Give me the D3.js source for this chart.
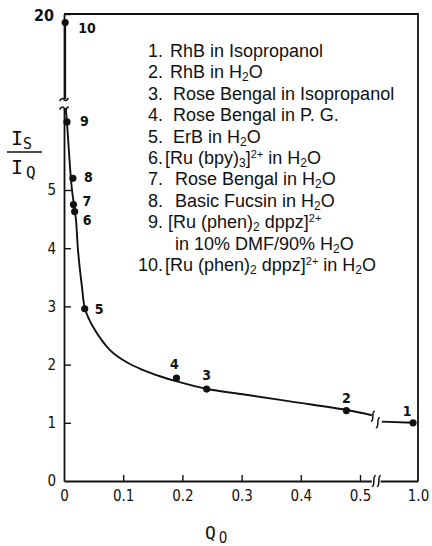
<!DOCTYPE html>
<html><head><meta charset="utf-8">
<script src="https://cdn.jsdelivr.net/npm/d3@7"></script>
<style>body{margin:0;background:#fff}svg{display:block}</style>
</head><body>
<svg id="chart" width="432" height="546"></svg>
<script>
// ---------- data ----------
const pointIds = ["1","2","3","4","5","6","7","8","9","10"];
const quantumYield = [0.987, 0.477, 0.241, 0.190, 0.035, 0.018, 0.016, 0.015, 0.005, 0.002];
const intensityRatio = [1.00, 1.21, 1.58, 1.77, 2.96, 4.63, 4.75, 5.20, 6.17, 19.8];
const legendNumbers = ["1.","2.","3.","4.","5.","6.","7.","8.","9.","","10."];
const legendLabels = [
  "RhB in Isopropanol",
  "RhB in H_{2}O",
  "Rose Bengal in Isopropanol",
  "Rose Bengal in P. G.",
  "ErB in H_{2}O",
  "[Ru (bpy)_{3}]^{2+} in H_{2}O",
  "Rose Bengal in H_{2}O",
  "Basic Fucsin in H_{2}O",
  "[Ru (phen)_{2} dppz]^{2+}",
  "in 10% DMF/90% H_{2}O",
  "[Ru (phen)_{2} dppz]^{2+} in H_{2}O"
];
// fitted curve (left part, top part above the y break, right part after the x break)
const fitQ     = [0.003, 0.005, 0.0101, 0.0135, 0.0169, 0.0203, 0.0236, 0.0304, 0.0355, 0.049, 0.0777, 0.106, 0.133, 0.162, 0.1875, 0.2416, 0.302, 0.387, 0.478, 0.520];
const fitRatio = [6.40, 6.17, 5.40, 5.00, 4.74, 4.48, 3.97, 3.33, 2.96, 2.65, 2.25, 2.04, 1.91, 1.80, 1.72, 1.58, 1.49, 1.36, 1.22, 1.13];
const fitQTop = [0.002, 0.002];
const fitRatioTop = [18.0, 19.8];
const fitQRight = [0.905, 0.987];
const fitRatioRight = [1.02, 1.00];
const xTickValues = [0, 0.1, 0.2, 0.3, 0.4, 0.5];
const xTickLabels = ["0", "0.1", "0.2", "0.3", "0.4", "0.5"];
const xTickValuesHigh = [1.0];
const xTickLabelsHigh = ["1.0"];
const yTickValues = [0, 1, 2, 3, 4, 5];
const yTickLabels = ["0", "1", "2", "3", "4", "5"];
const yTickValuesHigh = [20];
const yTickLabelsHigh = ["20"];

// ---------- layout ----------
const INK = "#111";
const svg = d3.select("#chart");
const xLow = d3.scaleLinear().domain([0, 0.52]).range([64, 64 + 0.52 * 592]);
const xHigh = d3.scaleLinear().domain([0.9, 1.0]).range([380, 418]);
const yLow = d3.scaleLinear().domain([0, 6.4]).range([481, 481 - 6.4 * 58.2]);
const yHigh = d3.scaleLinear().domain([18, 20]).range([99, 14]);
const xPos = q => q >= 0.9 ? xHigh(q) : xLow(q);
const yPos = r => r > 6.4 ? yHigh(r) : yLow(r);

const tickFont = "'DejaVu Sans Condensed','DejaVu Sans',sans-serif";

function styleAxis(g){
  g.selectAll("path.domain").attr("stroke", INK).attr("stroke-width", 1.8);
  g.selectAll(".tick line").attr("stroke", INK).attr("stroke-width", 1.4);
  g.selectAll(".tick text").attr("fill", INK).style("font-family", tickFont)
    .style("font-stretch", "condensed").style("font-size", "15px");
}

// x axes
const gxl = svg.append("g").attr("transform", "translate(0,481)")
  .call(d3.axisBottom(xLow).tickValues(xTickValues).tickFormat((d,i)=>xTickLabels[i])
    .tickSize(-6).tickSizeOuter(0).tickPadding(9));
styleAxis(gxl);
gxl.selectAll(".tick line").filter(d => d === 0).remove();
const gxh = svg.append("g").attr("transform", "translate(0,481)")
  .call(d3.axisBottom(xHigh).tickValues(xTickValuesHigh).tickFormat((d,i)=>xTickLabelsHigh[i])
    .tickSize(0).tickSizeOuter(0).tickPadding(9));
styleAxis(gxh);

// y axes
const gyl = svg.append("g").attr("transform", "translate(64,0)")
  .call(d3.axisLeft(yLow).tickValues(yTickValues).tickFormat((d,i)=>yTickLabels[i])
    .tickSize(-7).tickSizeOuter(0).tickPadding(8));
styleAxis(gyl);
gyl.selectAll(".tick line").filter(d => d === 0).remove();
const gyh = svg.append("g").attr("transform", "translate(64,0)")
  .call(d3.axisLeft(yHigh).tickValues(yTickValuesHigh).tickFormat((d,i)=>yTickLabelsHigh[i])
    .tickSize(-7).tickSizeOuter(0).tickPadding(10));
styleAxis(gyh);
gyh.selectAll(".tick text").attr("dy", "0.4em").style("font-size", "16px").style("font-weight", "bold");

// frame: top and right
svg.append("path")
  .attr("d", `M${xLow(0)},${yHigh(20)} H${xHigh(1.0)} V${yLow(0)}`)
  .attr("fill", "none").attr("stroke", INK).attr("stroke-width", 1.8);

// break marks
function squiggleV(cx, cy, h){ // vertical "ʃ"
  return `M${cx+2},${cy-h/2} C${cx-2},${cy-h/2} ${cx+2},${cy+h/2} ${cx-2},${cy+h/2}`;
}
function squiggleH(cx, cy, w){
  return `M${cx-w/2},${cy+1.5} C${cx-w/4},${cy-2} ${cx},${cy-1} ${cx},${cy} S${cx+w/4},${cy+2} ${cx+w/2},${cy-1.5}`;
}
const breaks = svg.append("g").attr("fill", "none").attr("stroke", INK).attr("stroke-width", 1.5);
// x axis break
const xb = xLow(0.52);
breaks.append("rect").attr("x", xb).attr("y", 477).attr("width", 380 - xb).attr("height", 8).attr("fill", "#fff").attr("stroke", "none");
breaks.append("path").attr("d", squiggleV(xb + 2, 481, 11));
breaks.append("path").attr("d", squiggleV(xb + 7, 481, 11));
// y axis break
breaks.append("rect").attr("x", 60).attr("y", yHigh(18)).attr("width", 8).attr("height", yLow(6.4) - yHigh(18)).attr("fill", "#fff").attr("stroke", "none");
breaks.append("path").attr("d", squiggleH(64, yHigh(18) + 0.5, 9));
breaks.append("path").attr("d", squiggleH(64, yLow(6.4) - 0.5, 9));
// curve break
breaks.append("path").attr("d", squiggleV(xLow(0.52) + 1, yLow(1.13) + 1, 10));
breaks.append("path").attr("d", squiggleV(xLow(0.52) + 6, yLow(1.02) + 1, 10));

// fitted curve
const line = d3.line().x(d => xPos(d[0])).y(d => yPos(d[1])).curve(d3.curveCatmullRom.alpha(0.5));
const curves = [
  d3.zip(fitQ, fitRatio),
  d3.zip(fitQTop, fitRatioTop),
  d3.zip(fitQRight, fitRatioRight)
];
svg.append("g").selectAll("path").data(curves).join("path")
  .attr("d", line).attr("fill", "none").attr("stroke", INK).attr("stroke-width", 1.9);

// points
const pts = d3.zip(quantumYield, intensityRatio, pointIds);
svg.append("g").selectAll("circle").data(pts).join("circle")
  .attr("cx", d => xPos(d[0])).attr("cy", d => yPos(d[1])).attr("r", 3.6).attr("fill", INK);

// point labels: placement relative to each point [dx, dy, anchor]
const labelPlacement = [[-6,-12,"middle"],[0,-13,"middle"],[0,-14,"middle"],[-2,-14,"middle"],
  [10,0,"start"],[8,8,"start"],[9,-4,"start"],[11,-1,"start"],[13,-1,"start"],[13,5,"start"]];
svg.append("g").selectAll("text").data(pts).join("text")
  .attr("x", (d,i) => xPos(d[0]) + labelPlacement[i][0])
  .attr("y", (d,i) => yPos(d[1]) + labelPlacement[i][1])
  .attr("dy", "0.36em")
  .attr("text-anchor", (d,i) => labelPlacement[i][2])
  .style("font-family", tickFont).style("font-stretch", "condensed")
  .style("font-size", "14px").style("font-weight", "bold").attr("fill", INK)
  .text(d => d[2]);

// legend
const legendFont = "'Liberation Sans',Arial,sans-serif";
const legendIndent = [170,170,173,173,173,165,175,175,168,175,165];
const legend = svg.append("g").style("font-family", legendFont).style("font-size", "18px").attr("fill", INK);
function richText(sel, str){
  const parts = str.split(/(_\{[^}]*\}|\^\{[^}]*\})/).filter(s => s.length);
  let shift = 0;
  parts.forEach(p => {
    let target = 0, size = null, txt = p;
    if (p.startsWith("_{")) { target = 3; size = "12px"; txt = p.slice(2, -1); }
    else if (p.startsWith("^{")) { target = -6; size = "11px"; txt = p.slice(2, -1); }
    const t = sel.append("tspan").attr("dy", target - shift).text(txt);
    if (size) t.style("font-size", size);
    shift = target;
  });
}
legendLabels.forEach((lab, i) => {
  const y = 57 + i * 21.4;
  legend.append("text").attr("x", 163).attr("y", y).attr("text-anchor", "end").text(legendNumbers[i]);
  richText(legend.append("text").attr("x", legendIndent[i]).attr("y", y), lab);
});

// axis titles
const titleFont = "'DejaVu Sans Mono',monospace";
const yt = svg.append("g").style("font-family", titleFont).attr("fill", INK);
yt.append("text").attr("x", 11).attr("y", 145).style("font-size", "20px").text("I");
yt.append("text").attr("x", 23).attr("y", 149).style("font-size", "15px").text("S");
yt.append("line").attr("x1", 7).attr("x2", 42).attr("y1", 152).attr("y2", 152).attr("stroke", INK).attr("stroke-width", 1.5);
yt.append("text").attr("x", 11).attr("y", 174).style("font-size", "20px").text("I");
yt.append("text").attr("x", 26).attr("y", 178).style("font-size", "16px").text("Q");
const xt = svg.append("text").attr("x", 205).attr("y", 539).attr("fill", INK);
xt.append("tspan").style("font-family", titleFont).style("font-size", "18px").text("Q");
xt.append("tspan").attr("dx", 3).attr("dy", 4).style("font-family", tickFont).style("font-size", "15px").text("0");
</script>
</body></html>
